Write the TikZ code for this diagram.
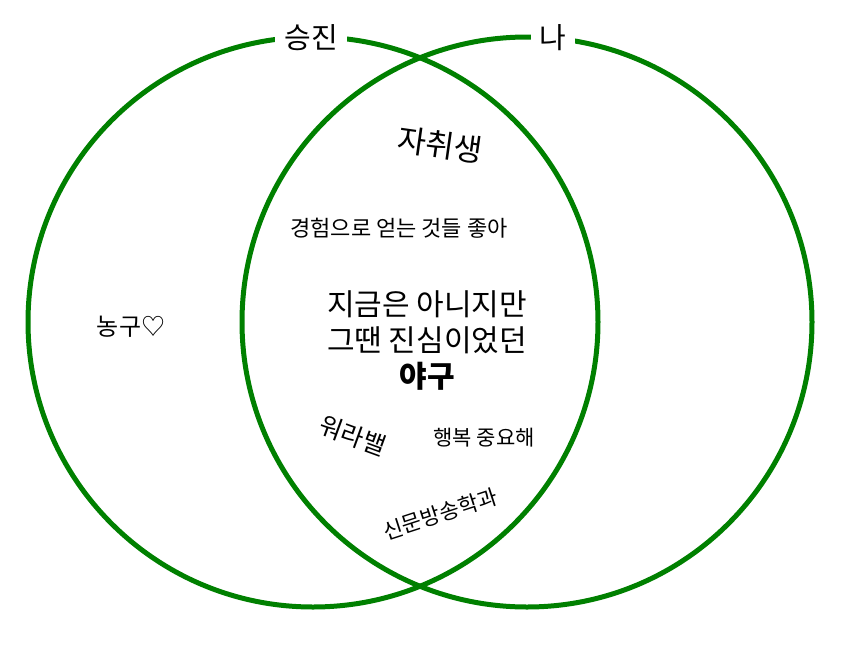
\documentclass[tikz,border=0pt]{standalone}
\usepackage{fontspec}
\setmainfont{Noto Sans CJK KR}
\usepackage{xcolor}
\usepackage{tikz}
\usetikzlibrary{positioning}
\definecolor{vennGreen}{RGB}{0, 128, 0}

\tikzset{
    venn/.style={draw=vennGreen, line width=5pt},
    setlabel/.style={fill=white, inner xsep=9pt, inner ysep=2pt, font=\fontsize{29}{30}\selectfont},
    word/.style={font=\fontsize{22}{24}\selectfont}
}

\begin{document}
\begin{tikzpicture}[x=1pt, y=-1pt]
    \useasboundingbox (0,0) rectangle (847,646);
    % The two sets
    \draw[venn] (313,322) circle (285);
    \draw[venn] (527,322) circle (285);
    \node[setlabel] (seungjin) at (311,38) {승진};
    \node[setlabel] (na) at (553,38) {나};

    % Only the left set
    \node[word, font=\fontsize{24}{26}\selectfont] (nonggu) at (131,327) {농구♡};

    % Both sets
    \node[rotate=-8, font=\fontsize{31}{34}\selectfont] (jachwi) at (440,145) {자취생};
    \node[word] (gyeongheom) at (399,228) {경험으로 얻는 것들 좋아};
    \node[align=center, font=\fontsize{30}{36}\selectfont] (yagu) at (427,341)
        {지금은 아니지만\\그땐 진심이었던\\\textbf{야구}};
    \node[rotate=-20, font=\fontsize{25}{28}\selectfont] (worabal) at (353,436) {워라밸};
    \node[word, font=\fontsize{21}{22}\selectfont] (haengbok) at (484,438) {행복 중요해};
    \node[word, rotate=18, font=\fontsize{21.5}{24}\selectfont] (sinmun) at (440,514) {신문방송학과};
\end{tikzpicture}
\end{document}
